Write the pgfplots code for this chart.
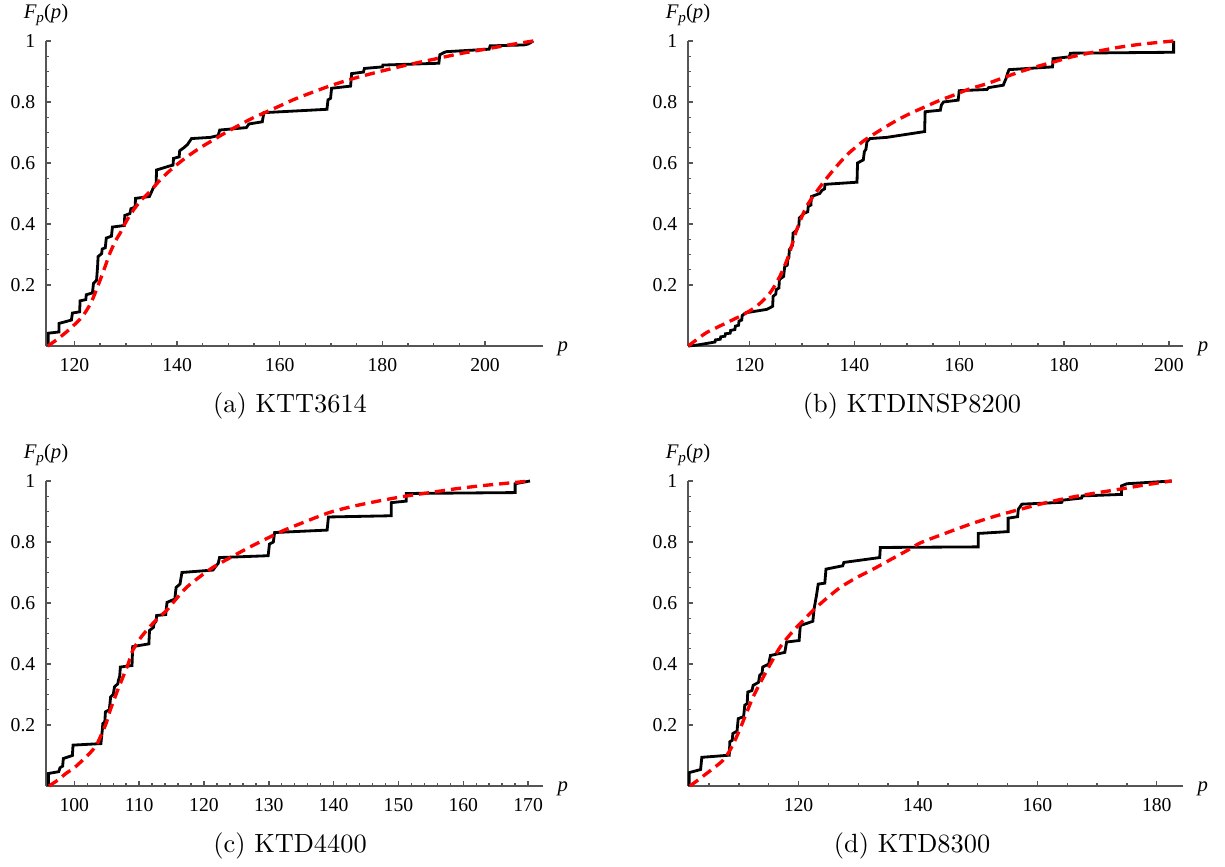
\documentclass[border=0pt]{standalone}
\usepackage{fontspec}
\usepackage{pgfplots}
\pgfplotsset{compat=1.18}
\newfontfamily\tmsf{Liberation Serif}
\newfontfamily\capf{lmroman10-regular}[Extension=.otf]
\definecolor{axgray}{RGB}{85,85,85}
\newcommand\lblF{{\tmsf\fontsize{5.9}{7}\selectfont\itshape F\raisebox{-0.4ex}{\fontsize{4.3}{5}\selectfont p}\upshape(\itshape p\/\upshape)}}
\newcommand\lblp{{\tmsf\fontsize{5.9}{7}\selectfont\itshape p}}
\newcommand\capt[1]{{\capf\fontsize{7.5}{9}\selectfont #1}}

\pgfplotsset{
  cdfaxis/.style={
    scale only axis, height=30.5mm, anchor=south west,
    ymin=0, ymax=1, enlargelimits=false, clip=false,
    axis x line*=bottom, axis y line*=left,
    axis line style={draw=axgray, line width=0.4pt},
    tick align=inside,
    tick style={draw=axgray, line width=0.4pt},
    major tick length=0.45mm, minor tick length=0.25mm,
    ytick={0.2,0.4,0.6,0.8,1}, minor y tick num=3,
    tick label style={font=\tmsf\fontsize{5.6}{6.5}\selectfont},
    /pgf/number format/assume math mode=true,
    xticklabel style={anchor=north, inner sep=0pt, yshift=-1.15mm},
    yticklabel style={anchor=east, inner sep=0pt, xshift=-1.0mm},
  },
  ecdf/.style={black, line width=0.8pt, line join=miter},
  fit/.style={red, line width=0.95pt, dash pattern=on 2.9pt off 1.7pt},
}

\begin{document}
\begin{tikzpicture}
\useasboundingbox (0,0) rectangle (122.5mm,86.7mm);

% (a) KTT3614
\begin{axis}[cdfaxis, at={(4.6mm,52.1mm)}, width=49.7mm,
  xmin=114.45, xmax=211.3, xtick={120,140,...,200}, minor x tick num=3]
\addplot[ecdf] coordinates {
(114.9,0) (114.9,0.042) (117.0,0.046) (117.0,0.074) (119.4,0.085) (119.6,0.108)
(121.0,0.112) (121.1,0.148) (122.2,0.152) (122.3,0.168) (123.5,0.174) (123.7,0.205)
(124.3,0.215) (124.5,0.26) (124.6,0.293) (125.3,0.303) (125.4,0.318) (126.0,0.322)
(126.2,0.354) (127.2,0.36) (127.4,0.39) (129.7,0.395) (129.8,0.428) (130.8,0.434)
(131.0,0.45) (131.8,0.455) (131.9,0.484) (134.6,0.49) (135.0,0.505) (135.4,0.52)
(135.9,0.53) (136.0,0.577) (138.5,0.59) (139.2,0.593) (139.3,0.615) (140.4,0.62)
(140.5,0.64) (141.3,0.65) (142.0,0.66) (142.8,0.68) (146.5,0.684) (148.0,0.69)
(148.3,0.708) (153.5,0.716) (154.0,0.728) (156.6,0.735) (156.9,0.765) (169.2,0.776)
(169.4,0.807) (169.9,0.812) (170.1,0.845) (173.8,0.852) (174.0,0.893) (176.3,0.898)
(176.5,0.91) (180.0,0.915) (180.1,0.921) (191.0,0.927) (191.2,0.955) (192.0,0.962)
(192.5,0.965) (200.8,0.973) (201.0,0.984) (207.6,0.987) (208.4,0.99) (209.4,1.0)
};
\addplot[fit, smooth] coordinates {
(114.8,0.0) (116.5,0.02) (118.5,0.047) (120.5,0.078) (121.7,0.1) (123.0,0.135)
(123.7,0.16) (125.0,0.216) (126.0,0.262) (126.9,0.304) (128.0,0.345) (128.9,0.37)
(130.2,0.412) (131.5,0.446) (133.0,0.478) (134.7,0.506) (136.3,0.537) (138.0,0.566)
(140.0,0.595) (141.9,0.62) (144.5,0.65) (147.0,0.675) (149.5,0.70) (152.2,0.725)
(154.8,0.748) (156.8,0.763) (160.0,0.787) (162.6,0.807) (165.0,0.823) (170.0,0.854)
(175.0,0.88) (180.0,0.902) (185.0,0.922) (190.0,0.94) (195.0,0.958) (200.0,0.973)
(205.0,0.988) (209.4,1.0)
};
\node[anchor=base, inner sep=0pt, yshift=2.2mm] at (rel axis cs:0,1) {\lblF};
\node[anchor=base west, inner sep=0pt, xshift=1.4mm, yshift=-0.6mm] at (rel axis cs:1,0) {\lblp};
\end{axis}
\node[anchor=base] at (29.0mm,45.4mm) {\capt{(a) KTT3614}};

% (b) KTDINSP8200
\begin{axis}[cdfaxis, at={(68.8mm,52.1mm)}, width=49.5mm,
  xmin=108.26, xmax=202.7, xtick={120,140,...,200}, minor x tick num=3]
\addplot[ecdf] coordinates {
(108.3,0.0) (110.0,0.003) (113.4,0.013) (113.5,0.02) (114.4,0.022) (114.5,0.03)
(115.3,0.032) (115.4,0.04) (116.3,0.042) (116.4,0.051) (117.2,0.054) (117.3,0.065)
(117.9,0.068) (118.0,0.082) (118.5,0.085) (118.6,0.1) (119.3,0.109) (123.3,0.12)
(124.4,0.13) (124.5,0.163) (125.0,0.17) (125.1,0.185) (125.6,0.19) (125.7,0.218)
(126.5,0.228) (126.7,0.26) (127.2,0.265) (127.3,0.283) (127.5,0.29) (127.6,0.316)
(128.2,0.33) (128.3,0.37) (129.0,0.38) (129.4,0.395) (129.5,0.42) (130.5,0.436)
(131.1,0.44) (131.2,0.458) (131.7,0.462) (131.8,0.49) (133.4,0.5) (133.8,0.51)
(134.3,0.515) (134.4,0.53) (140.5,0.537) (140.6,0.6) (141.7,0.61) (141.9,0.637)
(142.2,0.645) (142.4,0.67) (143.0,0.68) (146.2,0.684) (153.4,0.703) (153.5,0.768)
(156.4,0.773) (156.6,0.79) (157.0,0.80) (159.8,0.806) (160.0,0.837) (165.3,0.841)
(165.6,0.847) (168.4,0.855) (169.0,0.88) (169.2,0.893) (169.5,0.906) (177.8,0.915)
(177.9,0.942) (181.0,0.948) (181.2,0.96) (200.9,0.963) (200.9,1.0)
};
\addplot[fit, smooth] coordinates {
(108.3,0.0) (110.0,0.022) (111.8,0.044) (113.7,0.06) (115.6,0.076) (118.8,0.103)
(121.4,0.131) (123.9,0.174) (125.8,0.229) (127.4,0.294) (129.0,0.381) (130.9,0.458)
(133.5,0.523) (136.0,0.577) (138.5,0.625) (140.5,0.655) (142.4,0.68) (146.8,0.727)
(150.0,0.757) (153.2,0.782) (156.4,0.806) (158.9,0.822) (162.0,0.843) (165.3,0.86)
(168.5,0.88) (171.6,0.899) (175.0,0.917) (178.0,0.931) (181.0,0.946) (184.4,0.959)
(187.5,0.97) (190.7,0.98) (195.0,0.99) (200.9,1.0)
};
\node[anchor=base, inner sep=0pt, yshift=2.2mm] at (rel axis cs:0,1) {\lblF};
\node[anchor=base west, inner sep=0pt, xshift=1.4mm, yshift=-0.6mm] at (rel axis cs:1,0) {\lblp};
\end{axis}
\node[anchor=base] at (91.2mm,45.4mm) {\capt{(b) KTDINSP8200}};

% (c) KTD4400
\begin{axis}[cdfaxis, at={(4.6mm,8.1mm)}, width=49.7mm,
  xmin=95.63, xmax=172.3, xtick={100,110,...,170}, minor x tick num=4]
\addplot[ecdf] coordinates {
(96.0,0) (96.0,0.041) (97.6,0.047) (97.8,0.06) (98.2,0.065) (98.3,0.09) (99.7,0.1)
(99.8,0.134) (104.1,0.139) (104.3,0.18) (104.4,0.205) (104.7,0.21) (104.8,0.243)
(105.4,0.25) (105.6,0.292) (106.0,0.3) (106.2,0.325) (106.7,0.335) (106.8,0.346)
(107.0,0.36) (107.1,0.39) (108.9,0.395) (109.0,0.457) (111.5,0.466) (111.6,0.51)
(112.2,0.52) (112.3,0.532) (112.6,0.54) (112.7,0.559) (114.1,0.562) (114.3,0.602)
(115.5,0.613) (115.7,0.651) (116.3,0.662) (116.6,0.70) (121.4,0.708) (121.8,0.72)
(122.2,0.73) (122.4,0.749) (129.9,0.755) (130.1,0.793) (130.7,0.80) (130.9,0.831)
(139.0,0.839) (139.2,0.882) (148.9,0.886) (148.9,0.929) (151.2,0.934) (151.2,0.959)
(168.0,0.962) (168.0,0.991) (170.3,1.0)
};
\addplot[fit, smooth] coordinates {
(96.1,0.0) (97.5,0.02) (98.7,0.041) (100.0,0.06) (101.3,0.085) (102.5,0.11)
(103.4,0.134) (104.2,0.17) (104.9,0.205) (105.4,0.24) (105.9,0.27) (106.7,0.315)
(107.5,0.357) (108.3,0.4) (109.0,0.444) (110.2,0.485) (111.6,0.521) (112.9,0.55)
(114.2,0.575) (115.7,0.613) (117.3,0.651) (119.3,0.685) (121.4,0.717) (124.0,0.748)
(126.5,0.777) (129.3,0.807) (132.2,0.837) (135.8,0.868) (139.4,0.897) (143.0,0.917)
(147.1,0.935) (151.0,0.95) (154.9,0.962) (158.7,0.974) (162.6,0.984) (166.4,0.992)
(170.3,1.0)
};
\node[anchor=base, inner sep=0pt, yshift=2.2mm] at (rel axis cs:0,1) {\lblF};
\node[anchor=base west, inner sep=0pt, xshift=1.4mm, yshift=-0.6mm] at (rel axis cs:1,0) {\lblp};
\end{axis}
\node[anchor=base] at (29.0mm,1.4mm) {\capt{(c) KTD4400}};

% (d) KTD8300
\begin{axis}[cdfaxis, at={(68.8mm,8.1mm)}, width=49.5mm,
  xmin=101.49, xmax=184.4, xtick={120,140,...,180},
  minor xtick={105,110,115,125,130,135,145,150,155,165,170,175}]
\addplot[ecdf] coordinates {
(101.7,0) (101.7,0.044) (103.6,0.054) (103.8,0.094) (108.4,0.101) (108.5,0.145)
(108.9,0.15) (109.0,0.172) (109.7,0.18) (109.9,0.221) (110.8,0.227) (111.0,0.265)
(111.4,0.27) (111.5,0.308) (112.2,0.313) (112.4,0.33) (113.3,0.34) (113.5,0.363)
(113.9,0.37) (114.0,0.39) (115.0,0.4) (115.3,0.428) (117.7,0.438) (118.0,0.472)
(120.1,0.477) (120.3,0.526) (122.4,0.54) (122.6,0.58) (123.0,0.624) (123.3,0.662)
(124.4,0.665) (124.6,0.711) (127.4,0.722) (127.6,0.733) (133.6,0.749) (133.7,0.782)
(150.1,0.784) (150.1,0.828) (155.1,0.834) (155.1,0.878) (156.7,0.883) (156.8,0.907)
(157.4,0.924) (164.1,0.93) (164.2,0.937) (167.4,0.944) (167.5,0.951) (174.1,0.956)
(174.1,0.984) (175.0,0.991) (182.5,1.0)
};
\addplot[fit, smooth] coordinates {
(101.8,0.0) (103.2,0.02) (104.6,0.041) (106.0,0.062) (107.4,0.085) (108.3,0.11)
(109.1,0.139) (110.0,0.178) (110.8,0.216) (111.6,0.255) (112.4,0.292) (113.5,0.335)
(114.7,0.379) (115.8,0.418) (116.9,0.455) (118.3,0.49) (119.7,0.521) (121.3,0.553)
(123.0,0.586) (125.0,0.62) (127.0,0.651) (129.7,0.683) (132.5,0.711) (135.3,0.741)
(138.1,0.771) (140.4,0.797) (143.7,0.822) (148.7,0.858) (153.0,0.885) (157.1,0.907)
(161.3,0.928) (165.5,0.946) (169.6,0.96) (173.8,0.973) (178.0,0.987) (182.5,1.0)
};
\node[anchor=base, inner sep=0pt, yshift=2.2mm] at (rel axis cs:0,1) {\lblF};
\node[anchor=base west, inner sep=0pt, xshift=1.4mm, yshift=-0.6mm] at (rel axis cs:1,0) {\lblp};
\end{axis}
\node[anchor=base] at (91.2mm,1.4mm) {\capt{(d) KTD8300}};
\end{tikzpicture}
\end{document}
